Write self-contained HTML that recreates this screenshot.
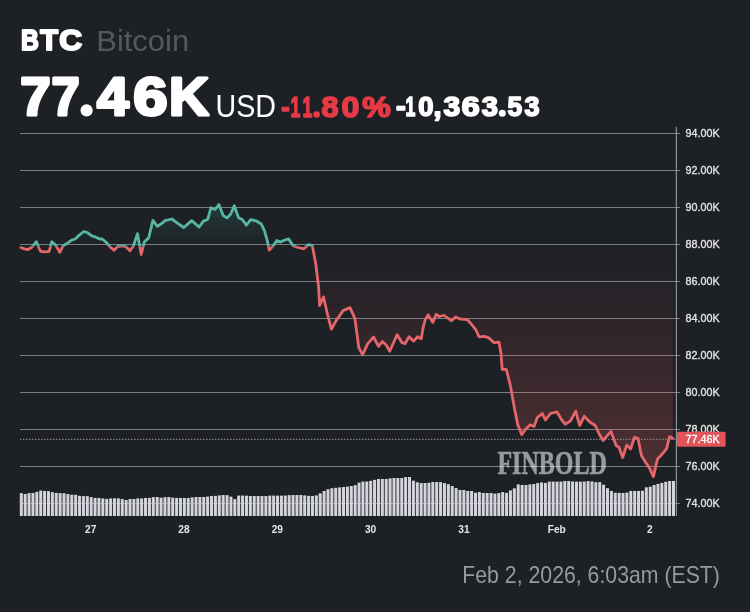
<!DOCTYPE html><html><head><meta charset="utf-8"><style>html,body{margin:0;padding:0;background:#1d2025;}svg{display:block;will-change:transform}</style></head><body>
<svg width="750" height="612" viewBox="0 0 750 612" font-family="Liberation Sans, sans-serif">
<rect width="750" height="612" fill="#1d2025"/>
<defs>
<clipPath id="above"><rect x="0" y="0" width="750" height="246.50"/></clipPath>
<clipPath id="below"><rect x="0" y="246.50" width="750" height="365.50"/></clipPath>
<linearGradient id="gr" x1="0" y1="246.5" x2="0" y2="480" gradientUnits="userSpaceOnUse"><stop offset="0" stop-color="#e55a5a" stop-opacity="0"/><stop offset="1" stop-color="#e55a5a" stop-opacity="0.26"/></linearGradient>
<linearGradient id="gg" x1="0" y1="246.5" x2="0" y2="200" gradientUnits="userSpaceOnUse"><stop offset="0" stop-color="#43b5a0" stop-opacity="0"/><stop offset="1" stop-color="#43b5a0" stop-opacity="0.2"/></linearGradient>
</defs>
<text x="497.41" y="474.20" font-family="Liberation Serif, serif" font-weight="bold" font-size="34.19" fill="#989a9e" stroke="#989a9e" stroke-width="0.6" textLength="109.55" lengthAdjust="spacingAndGlyphs">FINBOLD</text>
<rect x="20" y="133" width="660" height="1" fill="#ffffff" fill-opacity="0.42"/>
<rect x="20" y="170" width="660" height="1" fill="#ffffff" fill-opacity="0.42"/>
<rect x="20" y="207" width="660" height="1" fill="#ffffff" fill-opacity="0.42"/>
<rect x="20" y="244" width="660" height="1" fill="#ffffff" fill-opacity="0.42"/>
<rect x="20" y="281" width="660" height="1" fill="#ffffff" fill-opacity="0.42"/>
<rect x="20" y="318" width="660" height="1" fill="#ffffff" fill-opacity="0.42"/>
<rect x="20" y="355" width="660" height="1" fill="#ffffff" fill-opacity="0.42"/>
<rect x="20" y="392" width="660" height="1" fill="#ffffff" fill-opacity="0.42"/>
<rect x="20" y="429" width="660" height="1" fill="#ffffff" fill-opacity="0.42"/>
<rect x="20" y="466" width="660" height="1" fill="#ffffff" fill-opacity="0.42"/>
<rect x="20" y="503" width="660" height="1" fill="#ffffff" fill-opacity="0.42"/>
<path d="M20.90,247.50 L23.50,248.60 L27.80,249.70 L32.10,247.00 L36.30,241.70 L39.00,248.00 L40.60,251.30 L44.90,251.80 L49.10,251.30 L51.80,241.70 L55.50,244.90 L59.80,252.30 L63.00,245.90 L67.30,243.30 L71.50,240.10 L75.30,239.00 L79.00,235.30 L83.80,231.50 L87.50,232.60 L91.80,235.80 L95.30,236.90 L99.60,239.00 L102.30,239.00 L106.00,242.20 L109.70,246.50 L114.00,250.20 L117.70,246.50 L122.00,245.90 L125.70,246.50 L130.00,250.70 L133.20,246.50 L137.50,233.70 L141.20,254.50 L144.40,241.70 L148.70,237.90 L152.90,220.30 L157.20,226.20 L162.50,223.00 L165.00,220.60 L171.90,219.00 L177.80,223.30 L183.70,227.50 L191.70,220.60 L199.10,227.00 L203.40,221.10 L207.70,219.50 L210.90,207.80 L215.10,209.40 L218.90,204.60 L223.10,215.30 L226.90,217.90 L230.60,214.20 L234.30,205.70 L238.60,217.90 L242.10,219.20 L246.40,225.10 L250.70,219.70 L256.00,220.80 L261.30,224.00 L264.50,230.90 L267.20,240.50 L269.30,250.10 L273.10,245.90 L276.80,240.50 L280.50,242.10 L284.80,240.00 L288.50,238.90 L293.30,245.90 L298.10,247.50 L303.90,248.80 L308.50,244.60 L312.30,245.60 L315.70,263.50 L318.60,287.00 L319.60,305.70 L323.50,296.90 L327.50,314.50 L331.40,329.20 L336.30,320.40 L343.10,310.60 L350.00,307.60 L354.90,318.40 L358.80,347.80 L362.70,354.70 L367.60,343.90 L373.60,337.00 L378.50,346.40 L382.30,341.60 L386.00,344.80 L389.70,351.20 L393.50,342.70 L397.20,334.70 L402.00,342.70 L405.20,343.70 L408.90,336.80 L413.70,341.10 L417.50,336.80 L421.20,338.90 L423.30,326.70 L425.50,319.20 L428.10,314.90 L432.90,322.40 L436.10,314.40 L439.30,316.50 L443.60,315.50 L445.00,316.00 L451.40,320.80 L455.70,317.10 L461.00,319.20 L467.40,319.70 L471.70,324.50 L475.90,329.90 L479.10,336.80 L484.50,336.30 L488.70,337.90 L494.10,342.70 L498.90,342.10 L501.00,353.30 L502.20,369.40 L506.30,369.40 L510.40,385.70 L514.50,408.60 L517.80,424.90 L521.80,434.70 L525.10,429.80 L530.00,424.90 L534.10,426.50 L537.30,417.60 L542.20,413.50 L545.50,420.00 L550.40,413.50 L556.90,411.80 L561.80,420.00 L565.20,424.20 L570.50,420.90 L575.70,411.10 L579.60,425.50 L584.20,416.30 L590.10,422.20 L595.30,425.50 L599.20,434.00 L603.10,440.50 L611.00,431.40 L616.20,445.80 L618.80,447.10 L622.70,457.50 L626.70,445.10 L630.60,449.00 L634.50,437.30 L638.00,438.30 L641.40,455.50 L644.90,461.20 L649.40,468.00 L653.40,476.60 L657.50,458.90 L662.00,454.30 L666.60,448.60 L669.50,436.60 L672.90,438.30 L672.90,246.50 L20.90,246.50 Z" fill="url(#gr)" clip-path="url(#below)"/>
<path d="M20.90,247.50 L23.50,248.60 L27.80,249.70 L32.10,247.00 L36.30,241.70 L39.00,248.00 L40.60,251.30 L44.90,251.80 L49.10,251.30 L51.80,241.70 L55.50,244.90 L59.80,252.30 L63.00,245.90 L67.30,243.30 L71.50,240.10 L75.30,239.00 L79.00,235.30 L83.80,231.50 L87.50,232.60 L91.80,235.80 L95.30,236.90 L99.60,239.00 L102.30,239.00 L106.00,242.20 L109.70,246.50 L114.00,250.20 L117.70,246.50 L122.00,245.90 L125.70,246.50 L130.00,250.70 L133.20,246.50 L137.50,233.70 L141.20,254.50 L144.40,241.70 L148.70,237.90 L152.90,220.30 L157.20,226.20 L162.50,223.00 L165.00,220.60 L171.90,219.00 L177.80,223.30 L183.70,227.50 L191.70,220.60 L199.10,227.00 L203.40,221.10 L207.70,219.50 L210.90,207.80 L215.10,209.40 L218.90,204.60 L223.10,215.30 L226.90,217.90 L230.60,214.20 L234.30,205.70 L238.60,217.90 L242.10,219.20 L246.40,225.10 L250.70,219.70 L256.00,220.80 L261.30,224.00 L264.50,230.90 L267.20,240.50 L269.30,250.10 L273.10,245.90 L276.80,240.50 L280.50,242.10 L284.80,240.00 L288.50,238.90 L293.30,245.90 L298.10,247.50 L303.90,248.80 L308.50,244.60 L312.30,245.60 L315.70,263.50 L318.60,287.00 L319.60,305.70 L323.50,296.90 L327.50,314.50 L331.40,329.20 L336.30,320.40 L343.10,310.60 L350.00,307.60 L354.90,318.40 L358.80,347.80 L362.70,354.70 L367.60,343.90 L373.60,337.00 L378.50,346.40 L382.30,341.60 L386.00,344.80 L389.70,351.20 L393.50,342.70 L397.20,334.70 L402.00,342.70 L405.20,343.70 L408.90,336.80 L413.70,341.10 L417.50,336.80 L421.20,338.90 L423.30,326.70 L425.50,319.20 L428.10,314.90 L432.90,322.40 L436.10,314.40 L439.30,316.50 L443.60,315.50 L445.00,316.00 L451.40,320.80 L455.70,317.10 L461.00,319.20 L467.40,319.70 L471.70,324.50 L475.90,329.90 L479.10,336.80 L484.50,336.30 L488.70,337.90 L494.10,342.70 L498.90,342.10 L501.00,353.30 L502.20,369.40 L506.30,369.40 L510.40,385.70 L514.50,408.60 L517.80,424.90 L521.80,434.70 L525.10,429.80 L530.00,424.90 L534.10,426.50 L537.30,417.60 L542.20,413.50 L545.50,420.00 L550.40,413.50 L556.90,411.80 L561.80,420.00 L565.20,424.20 L570.50,420.90 L575.70,411.10 L579.60,425.50 L584.20,416.30 L590.10,422.20 L595.30,425.50 L599.20,434.00 L603.10,440.50 L611.00,431.40 L616.20,445.80 L618.80,447.10 L622.70,457.50 L626.70,445.10 L630.60,449.00 L634.50,437.30 L638.00,438.30 L641.40,455.50 L644.90,461.20 L649.40,468.00 L653.40,476.60 L657.50,458.90 L662.00,454.30 L666.60,448.60 L669.50,436.60 L672.90,438.30 L672.90,246.50 L20.90,246.50 Z" fill="url(#gg)" clip-path="url(#above)"/>
<line x1="20" y1="439.29" x2="676" y2="439.29" stroke="#a89494" stroke-width="1" stroke-dasharray="1.5 1.5"/>
<path d="M20.90,247.50 L23.50,248.60 L27.80,249.70 L32.10,247.00 L36.30,241.70 L39.00,248.00 L40.60,251.30 L44.90,251.80 L49.10,251.30 L51.80,241.70 L55.50,244.90 L59.80,252.30 L63.00,245.90 L67.30,243.30 L71.50,240.10 L75.30,239.00 L79.00,235.30 L83.80,231.50 L87.50,232.60 L91.80,235.80 L95.30,236.90 L99.60,239.00 L102.30,239.00 L106.00,242.20 L109.70,246.50 L114.00,250.20 L117.70,246.50 L122.00,245.90 L125.70,246.50 L130.00,250.70 L133.20,246.50 L137.50,233.70 L141.20,254.50 L144.40,241.70 L148.70,237.90 L152.90,220.30 L157.20,226.20 L162.50,223.00 L165.00,220.60 L171.90,219.00 L177.80,223.30 L183.70,227.50 L191.70,220.60 L199.10,227.00 L203.40,221.10 L207.70,219.50 L210.90,207.80 L215.10,209.40 L218.90,204.60 L223.10,215.30 L226.90,217.90 L230.60,214.20 L234.30,205.70 L238.60,217.90 L242.10,219.20 L246.40,225.10 L250.70,219.70 L256.00,220.80 L261.30,224.00 L264.50,230.90 L267.20,240.50 L269.30,250.10 L273.10,245.90 L276.80,240.50 L280.50,242.10 L284.80,240.00 L288.50,238.90 L293.30,245.90 L298.10,247.50 L303.90,248.80 L308.50,244.60 L312.30,245.60 L315.70,263.50 L318.60,287.00 L319.60,305.70 L323.50,296.90 L327.50,314.50 L331.40,329.20 L336.30,320.40 L343.10,310.60 L350.00,307.60 L354.90,318.40 L358.80,347.80 L362.70,354.70 L367.60,343.90 L373.60,337.00 L378.50,346.40 L382.30,341.60 L386.00,344.80 L389.70,351.20 L393.50,342.70 L397.20,334.70 L402.00,342.70 L405.20,343.70 L408.90,336.80 L413.70,341.10 L417.50,336.80 L421.20,338.90 L423.30,326.70 L425.50,319.20 L428.10,314.90 L432.90,322.40 L436.10,314.40 L439.30,316.50 L443.60,315.50 L445.00,316.00 L451.40,320.80 L455.70,317.10 L461.00,319.20 L467.40,319.70 L471.70,324.50 L475.90,329.90 L479.10,336.80 L484.50,336.30 L488.70,337.90 L494.10,342.70 L498.90,342.10 L501.00,353.30 L502.20,369.40 L506.30,369.40 L510.40,385.70 L514.50,408.60 L517.80,424.90 L521.80,434.70 L525.10,429.80 L530.00,424.90 L534.10,426.50 L537.30,417.60 L542.20,413.50 L545.50,420.00 L550.40,413.50 L556.90,411.80 L561.80,420.00 L565.20,424.20 L570.50,420.90 L575.70,411.10 L579.60,425.50 L584.20,416.30 L590.10,422.20 L595.30,425.50 L599.20,434.00 L603.10,440.50 L611.00,431.40 L616.20,445.80 L618.80,447.10 L622.70,457.50 L626.70,445.10 L630.60,449.00 L634.50,437.30 L638.00,438.30 L641.40,455.50 L644.90,461.20 L649.40,468.00 L653.40,476.60 L657.50,458.90 L662.00,454.30 L666.60,448.60 L669.50,436.60 L672.90,438.30" fill="none" stroke="#58b7a2" stroke-width="2.8" stroke-linejoin="round" stroke-linecap="round" clip-path="url(#above)"/>
<path d="M20.90,247.50 L23.50,248.60 L27.80,249.70 L32.10,247.00 L36.30,241.70 L39.00,248.00 L40.60,251.30 L44.90,251.80 L49.10,251.30 L51.80,241.70 L55.50,244.90 L59.80,252.30 L63.00,245.90 L67.30,243.30 L71.50,240.10 L75.30,239.00 L79.00,235.30 L83.80,231.50 L87.50,232.60 L91.80,235.80 L95.30,236.90 L99.60,239.00 L102.30,239.00 L106.00,242.20 L109.70,246.50 L114.00,250.20 L117.70,246.50 L122.00,245.90 L125.70,246.50 L130.00,250.70 L133.20,246.50 L137.50,233.70 L141.20,254.50 L144.40,241.70 L148.70,237.90 L152.90,220.30 L157.20,226.20 L162.50,223.00 L165.00,220.60 L171.90,219.00 L177.80,223.30 L183.70,227.50 L191.70,220.60 L199.10,227.00 L203.40,221.10 L207.70,219.50 L210.90,207.80 L215.10,209.40 L218.90,204.60 L223.10,215.30 L226.90,217.90 L230.60,214.20 L234.30,205.70 L238.60,217.90 L242.10,219.20 L246.40,225.10 L250.70,219.70 L256.00,220.80 L261.30,224.00 L264.50,230.90 L267.20,240.50 L269.30,250.10 L273.10,245.90 L276.80,240.50 L280.50,242.10 L284.80,240.00 L288.50,238.90 L293.30,245.90 L298.10,247.50 L303.90,248.80 L308.50,244.60 L312.30,245.60 L315.70,263.50 L318.60,287.00 L319.60,305.70 L323.50,296.90 L327.50,314.50 L331.40,329.20 L336.30,320.40 L343.10,310.60 L350.00,307.60 L354.90,318.40 L358.80,347.80 L362.70,354.70 L367.60,343.90 L373.60,337.00 L378.50,346.40 L382.30,341.60 L386.00,344.80 L389.70,351.20 L393.50,342.70 L397.20,334.70 L402.00,342.70 L405.20,343.70 L408.90,336.80 L413.70,341.10 L417.50,336.80 L421.20,338.90 L423.30,326.70 L425.50,319.20 L428.10,314.90 L432.90,322.40 L436.10,314.40 L439.30,316.50 L443.60,315.50 L445.00,316.00 L451.40,320.80 L455.70,317.10 L461.00,319.20 L467.40,319.70 L471.70,324.50 L475.90,329.90 L479.10,336.80 L484.50,336.30 L488.70,337.90 L494.10,342.70 L498.90,342.10 L501.00,353.30 L502.20,369.40 L506.30,369.40 L510.40,385.70 L514.50,408.60 L517.80,424.90 L521.80,434.70 L525.10,429.80 L530.00,424.90 L534.10,426.50 L537.30,417.60 L542.20,413.50 L545.50,420.00 L550.40,413.50 L556.90,411.80 L561.80,420.00 L565.20,424.20 L570.50,420.90 L575.70,411.10 L579.60,425.50 L584.20,416.30 L590.10,422.20 L595.30,425.50 L599.20,434.00 L603.10,440.50 L611.00,431.40 L616.20,445.80 L618.80,447.10 L622.70,457.50 L626.70,445.10 L630.60,449.00 L634.50,437.30 L638.00,438.30 L641.40,455.50 L644.90,461.20 L649.40,468.00 L653.40,476.60 L657.50,458.90 L662.00,454.30 L666.60,448.60 L669.50,436.60 L672.90,438.30" fill="none" stroke="#e4666a" stroke-width="2.8" stroke-linejoin="round" stroke-linecap="round" clip-path="url(#below)"/>
<rect x="19.80" y="493.17" width="3.0" height="22.83" fill="#d4d4dc"/>
<rect x="23.68" y="493.93" width="3.0" height="22.07" fill="#d4d4dc"/>
<rect x="27.56" y="493.10" width="3.0" height="22.90" fill="#d4d4dc"/>
<rect x="31.45" y="492.90" width="3.0" height="23.10" fill="#d4d4dc"/>
<rect x="35.33" y="491.88" width="3.0" height="24.12" fill="#d4d4dc"/>
<rect x="39.21" y="490.56" width="3.0" height="25.44" fill="#d4d4dc"/>
<rect x="43.09" y="491.00" width="3.0" height="25.00" fill="#d4d4dc"/>
<rect x="46.98" y="491.08" width="3.0" height="24.92" fill="#d4d4dc"/>
<rect x="50.86" y="492.17" width="3.0" height="23.83" fill="#d4d4dc"/>
<rect x="54.74" y="492.89" width="3.0" height="23.11" fill="#d4d4dc"/>
<rect x="58.62" y="493.10" width="3.0" height="22.90" fill="#d4d4dc"/>
<rect x="62.50" y="493.21" width="3.0" height="22.79" fill="#d4d4dc"/>
<rect x="66.39" y="494.05" width="3.0" height="21.95" fill="#d4d4dc"/>
<rect x="70.27" y="494.70" width="3.0" height="21.30" fill="#d4d4dc"/>
<rect x="74.15" y="494.75" width="3.0" height="21.25" fill="#d4d4dc"/>
<rect x="78.03" y="495.84" width="3.0" height="20.16" fill="#d4d4dc"/>
<rect x="81.91" y="496.10" width="3.0" height="19.90" fill="#d4d4dc"/>
<rect x="85.80" y="496.10" width="3.0" height="19.90" fill="#d4d4dc"/>
<rect x="89.68" y="497.11" width="3.0" height="18.89" fill="#d4d4dc"/>
<rect x="93.56" y="497.97" width="3.0" height="18.03" fill="#d4d4dc"/>
<rect x="97.44" y="497.99" width="3.0" height="18.01" fill="#d4d4dc"/>
<rect x="101.33" y="498.44" width="3.0" height="17.56" fill="#d4d4dc"/>
<rect x="105.21" y="498.91" width="3.0" height="17.09" fill="#d4d4dc"/>
<rect x="109.09" y="498.47" width="3.0" height="17.53" fill="#d4d4dc"/>
<rect x="112.97" y="498.30" width="3.0" height="17.70" fill="#d4d4dc"/>
<rect x="116.85" y="498.36" width="3.0" height="17.64" fill="#d4d4dc"/>
<rect x="120.74" y="499.06" width="3.0" height="16.94" fill="#d4d4dc"/>
<rect x="124.62" y="499.97" width="3.0" height="16.03" fill="#d4d4dc"/>
<rect x="128.50" y="499.00" width="3.0" height="17.00" fill="#d4d4dc"/>
<rect x="132.38" y="499.00" width="3.0" height="17.00" fill="#d4d4dc"/>
<rect x="136.26" y="498.34" width="3.0" height="17.66" fill="#d4d4dc"/>
<rect x="140.15" y="498.48" width="3.0" height="17.52" fill="#d4d4dc"/>
<rect x="144.03" y="497.97" width="3.0" height="18.03" fill="#d4d4dc"/>
<rect x="147.91" y="497.90" width="3.0" height="18.10" fill="#d4d4dc"/>
<rect x="151.79" y="497.16" width="3.0" height="18.84" fill="#d4d4dc"/>
<rect x="155.68" y="497.00" width="3.0" height="19.00" fill="#d4d4dc"/>
<rect x="159.56" y="497.69" width="3.0" height="18.31" fill="#d4d4dc"/>
<rect x="163.44" y="497.24" width="3.0" height="18.76" fill="#d4d4dc"/>
<rect x="167.32" y="497.00" width="3.0" height="19.00" fill="#d4d4dc"/>
<rect x="171.20" y="497.61" width="3.0" height="18.39" fill="#d4d4dc"/>
<rect x="175.09" y="497.90" width="3.0" height="18.10" fill="#d4d4dc"/>
<rect x="178.97" y="497.96" width="3.0" height="18.04" fill="#d4d4dc"/>
<rect x="182.85" y="498.00" width="3.0" height="18.00" fill="#d4d4dc"/>
<rect x="186.73" y="498.00" width="3.0" height="18.00" fill="#d4d4dc"/>
<rect x="190.61" y="497.38" width="3.0" height="18.62" fill="#d4d4dc"/>
<rect x="194.50" y="497.00" width="3.0" height="19.00" fill="#d4d4dc"/>
<rect x="198.38" y="497.00" width="3.0" height="19.00" fill="#d4d4dc"/>
<rect x="202.26" y="497.00" width="3.0" height="19.00" fill="#d4d4dc"/>
<rect x="206.14" y="496.59" width="3.0" height="19.41" fill="#d4d4dc"/>
<rect x="210.03" y="496.00" width="3.0" height="20.00" fill="#d4d4dc"/>
<rect x="213.91" y="495.86" width="3.0" height="20.14" fill="#d4d4dc"/>
<rect x="217.79" y="495.41" width="3.0" height="20.59" fill="#d4d4dc"/>
<rect x="221.67" y="495.00" width="3.0" height="21.00" fill="#d4d4dc"/>
<rect x="225.55" y="495.16" width="3.0" height="20.84" fill="#d4d4dc"/>
<rect x="229.44" y="496.63" width="3.0" height="19.37" fill="#d4d4dc"/>
<rect x="233.32" y="499.10" width="3.0" height="16.90" fill="#d4d4dc"/>
<rect x="237.20" y="495.60" width="3.0" height="20.40" fill="#d4d4dc"/>
<rect x="241.08" y="495.60" width="3.0" height="20.40" fill="#d4d4dc"/>
<rect x="244.96" y="495.65" width="3.0" height="20.35" fill="#d4d4dc"/>
<rect x="248.85" y="496.00" width="3.0" height="20.00" fill="#d4d4dc"/>
<rect x="252.73" y="496.00" width="3.0" height="20.00" fill="#d4d4dc"/>
<rect x="256.61" y="496.00" width="3.0" height="20.00" fill="#d4d4dc"/>
<rect x="260.49" y="496.00" width="3.0" height="20.00" fill="#d4d4dc"/>
<rect x="264.38" y="496.00" width="3.0" height="20.00" fill="#d4d4dc"/>
<rect x="268.26" y="495.62" width="3.0" height="20.38" fill="#d4d4dc"/>
<rect x="272.14" y="495.60" width="3.0" height="20.40" fill="#d4d4dc"/>
<rect x="276.02" y="495.60" width="3.0" height="20.40" fill="#d4d4dc"/>
<rect x="279.90" y="495.60" width="3.0" height="20.40" fill="#d4d4dc"/>
<rect x="283.79" y="495.60" width="3.0" height="20.40" fill="#d4d4dc"/>
<rect x="287.67" y="495.12" width="3.0" height="20.88" fill="#d4d4dc"/>
<rect x="291.55" y="495.00" width="3.0" height="21.00" fill="#d4d4dc"/>
<rect x="295.43" y="495.00" width="3.0" height="21.00" fill="#d4d4dc"/>
<rect x="299.31" y="495.00" width="3.0" height="21.00" fill="#d4d4dc"/>
<rect x="303.20" y="495.40" width="3.0" height="20.60" fill="#d4d4dc"/>
<rect x="307.08" y="495.86" width="3.0" height="20.14" fill="#d4d4dc"/>
<rect x="310.96" y="496.00" width="3.0" height="20.00" fill="#d4d4dc"/>
<rect x="314.84" y="495.41" width="3.0" height="20.59" fill="#d4d4dc"/>
<rect x="318.73" y="493.33" width="3.0" height="22.67" fill="#d4d4dc"/>
<rect x="322.61" y="490.95" width="3.0" height="25.05" fill="#d4d4dc"/>
<rect x="326.49" y="489.20" width="3.0" height="26.80" fill="#d4d4dc"/>
<rect x="330.37" y="488.21" width="3.0" height="27.79" fill="#d4d4dc"/>
<rect x="334.25" y="487.82" width="3.0" height="28.18" fill="#d4d4dc"/>
<rect x="338.14" y="487.35" width="3.0" height="28.65" fill="#d4d4dc"/>
<rect x="342.02" y="487.00" width="3.0" height="29.00" fill="#d4d4dc"/>
<rect x="345.90" y="486.65" width="3.0" height="29.35" fill="#d4d4dc"/>
<rect x="349.78" y="486.00" width="3.0" height="30.00" fill="#d4d4dc"/>
<rect x="353.66" y="485.13" width="3.0" height="30.87" fill="#d4d4dc"/>
<rect x="357.55" y="482.63" width="3.0" height="33.37" fill="#d4d4dc"/>
<rect x="361.43" y="481.60" width="3.0" height="34.40" fill="#d4d4dc"/>
<rect x="365.31" y="481.48" width="3.0" height="34.52" fill="#d4d4dc"/>
<rect x="369.19" y="480.83" width="3.0" height="35.17" fill="#d4d4dc"/>
<rect x="373.08" y="479.86" width="3.0" height="36.14" fill="#d4d4dc"/>
<rect x="376.96" y="479.00" width="3.0" height="37.00" fill="#d4d4dc"/>
<rect x="380.84" y="479.00" width="3.0" height="37.00" fill="#d4d4dc"/>
<rect x="384.72" y="478.97" width="3.0" height="37.03" fill="#d4d4dc"/>
<rect x="388.60" y="478.39" width="3.0" height="37.61" fill="#d4d4dc"/>
<rect x="392.49" y="478.00" width="3.0" height="38.00" fill="#d4d4dc"/>
<rect x="396.37" y="478.00" width="3.0" height="38.00" fill="#d4d4dc"/>
<rect x="400.25" y="478.00" width="3.0" height="38.00" fill="#d4d4dc"/>
<rect x="404.13" y="477.09" width="3.0" height="38.91" fill="#d4d4dc"/>
<rect x="408.01" y="477.00" width="3.0" height="39.00" fill="#d4d4dc"/>
<rect x="411.90" y="480.70" width="3.0" height="35.30" fill="#d4d4dc"/>
<rect x="415.78" y="482.32" width="3.0" height="33.68" fill="#d4d4dc"/>
<rect x="419.66" y="483.00" width="3.0" height="33.00" fill="#d4d4dc"/>
<rect x="423.54" y="483.00" width="3.0" height="33.00" fill="#d4d4dc"/>
<rect x="427.43" y="482.77" width="3.0" height="33.23" fill="#d4d4dc"/>
<rect x="431.31" y="482.00" width="3.0" height="34.00" fill="#d4d4dc"/>
<rect x="435.19" y="482.00" width="3.0" height="34.00" fill="#d4d4dc"/>
<rect x="439.07" y="482.14" width="3.0" height="33.86" fill="#d4d4dc"/>
<rect x="442.95" y="483.11" width="3.0" height="32.89" fill="#d4d4dc"/>
<rect x="446.84" y="484.17" width="3.0" height="31.83" fill="#d4d4dc"/>
<rect x="450.72" y="486.11" width="3.0" height="29.89" fill="#d4d4dc"/>
<rect x="454.60" y="488.05" width="3.0" height="27.95" fill="#d4d4dc"/>
<rect x="458.48" y="489.99" width="3.0" height="26.01" fill="#d4d4dc"/>
<rect x="462.36" y="490.00" width="3.0" height="26.00" fill="#d4d4dc"/>
<rect x="466.25" y="490.94" width="3.0" height="25.06" fill="#d4d4dc"/>
<rect x="470.13" y="491.00" width="3.0" height="25.00" fill="#d4d4dc"/>
<rect x="474.01" y="492.76" width="3.0" height="23.24" fill="#d4d4dc"/>
<rect x="477.89" y="492.10" width="3.0" height="23.90" fill="#d4d4dc"/>
<rect x="481.78" y="493.00" width="3.0" height="23.00" fill="#d4d4dc"/>
<rect x="485.66" y="493.00" width="3.0" height="23.00" fill="#d4d4dc"/>
<rect x="489.54" y="493.01" width="3.0" height="22.99" fill="#d4d4dc"/>
<rect x="493.42" y="493.59" width="3.0" height="22.41" fill="#d4d4dc"/>
<rect x="497.30" y="493.03" width="3.0" height="22.97" fill="#d4d4dc"/>
<rect x="501.19" y="492.08" width="3.0" height="23.92" fill="#d4d4dc"/>
<rect x="505.07" y="492.89" width="3.0" height="23.11" fill="#d4d4dc"/>
<rect x="508.95" y="490.41" width="3.0" height="25.59" fill="#d4d4dc"/>
<rect x="512.83" y="488.33" width="3.0" height="27.67" fill="#d4d4dc"/>
<rect x="516.71" y="484.43" width="3.0" height="31.57" fill="#d4d4dc"/>
<rect x="520.60" y="485.00" width="3.0" height="31.00" fill="#d4d4dc"/>
<rect x="524.48" y="485.00" width="3.0" height="31.00" fill="#d4d4dc"/>
<rect x="528.36" y="484.42" width="3.0" height="31.58" fill="#d4d4dc"/>
<rect x="532.24" y="484.03" width="3.0" height="31.97" fill="#d4d4dc"/>
<rect x="536.12" y="483.09" width="3.0" height="32.91" fill="#d4d4dc"/>
<rect x="540.01" y="482.47" width="3.0" height="33.53" fill="#d4d4dc"/>
<rect x="543.89" y="482.91" width="3.0" height="33.09" fill="#d4d4dc"/>
<rect x="547.77" y="481.60" width="3.0" height="34.40" fill="#d4d4dc"/>
<rect x="551.65" y="481.60" width="3.0" height="34.40" fill="#d4d4dc"/>
<rect x="555.54" y="481.60" width="3.0" height="34.40" fill="#d4d4dc"/>
<rect x="559.42" y="481.60" width="3.0" height="34.40" fill="#d4d4dc"/>
<rect x="563.30" y="481.03" width="3.0" height="34.97" fill="#d4d4dc"/>
<rect x="567.18" y="481.00" width="3.0" height="35.00" fill="#d4d4dc"/>
<rect x="571.06" y="481.53" width="3.0" height="34.47" fill="#d4d4dc"/>
<rect x="574.95" y="481.60" width="3.0" height="34.40" fill="#d4d4dc"/>
<rect x="578.83" y="481.60" width="3.0" height="34.40" fill="#d4d4dc"/>
<rect x="582.71" y="481.60" width="3.0" height="34.40" fill="#d4d4dc"/>
<rect x="586.59" y="481.14" width="3.0" height="34.86" fill="#d4d4dc"/>
<rect x="590.48" y="481.45" width="3.0" height="34.55" fill="#d4d4dc"/>
<rect x="594.36" y="482.17" width="3.0" height="33.83" fill="#d4d4dc"/>
<rect x="598.24" y="482.10" width="3.0" height="33.90" fill="#d4d4dc"/>
<rect x="602.12" y="484.70" width="3.0" height="31.30" fill="#d4d4dc"/>
<rect x="606.00" y="488.21" width="3.0" height="27.79" fill="#d4d4dc"/>
<rect x="609.89" y="490.92" width="3.0" height="25.08" fill="#d4d4dc"/>
<rect x="613.77" y="492.80" width="3.0" height="23.20" fill="#d4d4dc"/>
<rect x="617.65" y="492.84" width="3.0" height="23.16" fill="#d4d4dc"/>
<rect x="621.53" y="492.98" width="3.0" height="23.02" fill="#d4d4dc"/>
<rect x="625.41" y="492.59" width="3.0" height="23.41" fill="#d4d4dc"/>
<rect x="629.30" y="491.00" width="3.0" height="25.00" fill="#d4d4dc"/>
<rect x="633.18" y="491.00" width="3.0" height="25.00" fill="#d4d4dc"/>
<rect x="637.06" y="491.00" width="3.0" height="25.00" fill="#d4d4dc"/>
<rect x="640.94" y="490.76" width="3.0" height="25.24" fill="#d4d4dc"/>
<rect x="644.83" y="487.32" width="3.0" height="28.68" fill="#d4d4dc"/>
<rect x="648.71" y="486.71" width="3.0" height="29.29" fill="#d4d4dc"/>
<rect x="652.59" y="485.05" width="3.0" height="30.95" fill="#d4d4dc"/>
<rect x="656.47" y="483.87" width="3.0" height="32.13" fill="#d4d4dc"/>
<rect x="660.35" y="482.90" width="3.0" height="33.10" fill="#d4d4dc"/>
<rect x="664.24" y="481.80" width="3.0" height="34.20" fill="#d4d4dc"/>
<rect x="668.12" y="481.00" width="3.0" height="35.00" fill="#d4d4dc"/>
<rect x="672.00" y="481.00" width="3.0" height="35.00" fill="#d4d4dc"/>
<rect x="675.8" y="127" width="1.1" height="389" fill="#9a9ca0"/>
<text x="685.6" y="137.20" font-size="11.3" fill="#e2e2e2" stroke="#e2e2e2" stroke-width="0.35" textLength="34" lengthAdjust="spacingAndGlyphs">94.00K</text>
<text x="685.6" y="174.20" font-size="11.3" fill="#e2e2e2" stroke="#e2e2e2" stroke-width="0.35" textLength="34" lengthAdjust="spacingAndGlyphs">92.00K</text>
<text x="685.6" y="211.20" font-size="11.3" fill="#e2e2e2" stroke="#e2e2e2" stroke-width="0.35" textLength="34" lengthAdjust="spacingAndGlyphs">90.00K</text>
<text x="685.6" y="248.20" font-size="11.3" fill="#e2e2e2" stroke="#e2e2e2" stroke-width="0.35" textLength="34" lengthAdjust="spacingAndGlyphs">88.00K</text>
<text x="685.6" y="285.20" font-size="11.3" fill="#e2e2e2" stroke="#e2e2e2" stroke-width="0.35" textLength="34" lengthAdjust="spacingAndGlyphs">86.00K</text>
<text x="685.6" y="322.20" font-size="11.3" fill="#e2e2e2" stroke="#e2e2e2" stroke-width="0.35" textLength="34" lengthAdjust="spacingAndGlyphs">84.00K</text>
<text x="685.6" y="359.20" font-size="11.3" fill="#e2e2e2" stroke="#e2e2e2" stroke-width="0.35" textLength="34" lengthAdjust="spacingAndGlyphs">82.00K</text>
<text x="685.6" y="396.20" font-size="11.3" fill="#e2e2e2" stroke="#e2e2e2" stroke-width="0.35" textLength="34" lengthAdjust="spacingAndGlyphs">80.00K</text>
<text x="685.6" y="433.20" font-size="11.3" fill="#e2e2e2" stroke="#e2e2e2" stroke-width="0.35" textLength="34" lengthAdjust="spacingAndGlyphs">78.00K</text>
<text x="685.6" y="470.20" font-size="11.3" fill="#e2e2e2" stroke="#e2e2e2" stroke-width="0.35" textLength="34" lengthAdjust="spacingAndGlyphs">76.00K</text>
<text x="685.6" y="507.20" font-size="11.3" fill="#e2e2e2" stroke="#e2e2e2" stroke-width="0.35" textLength="34" lengthAdjust="spacingAndGlyphs">74.00K</text>
<rect x="677" y="431.8" width="48.6" height="15" rx="1.5" fill="#e2535a"/>
<text x="685.6" y="443.19" font-size="11.3" fill="#ffffff" stroke="#ffffff" stroke-width="0.35" textLength="34" lengthAdjust="spacingAndGlyphs">77.46K</text>
<text x="90.7" y="533.2" font-size="11.3" font-weight="bold" fill="#e6e6e6" text-anchor="middle" textLength="11.31" lengthAdjust="spacingAndGlyphs">27</text>
<text x="184.0" y="533.2" font-size="11.3" font-weight="bold" fill="#e6e6e6" text-anchor="middle" textLength="11.31" lengthAdjust="spacingAndGlyphs">28</text>
<text x="277.3" y="533.2" font-size="11.3" font-weight="bold" fill="#e6e6e6" text-anchor="middle" textLength="11.31" lengthAdjust="spacingAndGlyphs">29</text>
<text x="370.6" y="533.2" font-size="11.3" font-weight="bold" fill="#e6e6e6" text-anchor="middle" textLength="11.31" lengthAdjust="spacingAndGlyphs">30</text>
<text x="463.9" y="533.2" font-size="11.3" font-weight="bold" fill="#e6e6e6" text-anchor="middle" textLength="11.31" lengthAdjust="spacingAndGlyphs">31</text>
<text x="556.8" y="533.2" font-size="11.3" font-weight="bold" fill="#e6e6e6" text-anchor="middle" textLength="18.08" lengthAdjust="spacingAndGlyphs">Feb</text>
<text x="649.8" y="533.2" font-size="11.3" font-weight="bold" fill="#e6e6e6" text-anchor="middle" textLength="5.65" lengthAdjust="spacingAndGlyphs">2</text>
<text x="96.25" y="50.80" font-family="Liberation Sans, sans-serif" font-size="29.18" font-weight="normal" fill="#55585e" textLength="92.87" lengthAdjust="spacingAndGlyphs">Bitcoin</text>
<text x="215.41" y="117.00" font-family="Liberation Sans, sans-serif" font-size="31.26" font-weight="normal" fill="#ffffff" textLength="60.59" lengthAdjust="spacingAndGlyphs">USD</text>
<g font-family="Liberation Sans, sans-serif" font-weight="bold" font-size="29.22" fill="#ffffff" stroke="#ffffff" stroke-width="2.00" stroke-linejoin="round">
<text x="20.93" y="49.50" textLength="17.88" lengthAdjust="spacingAndGlyphs">B</text>
<text x="40.30" y="49.50" textLength="17.79" lengthAdjust="spacingAndGlyphs">T</text>
<text x="59.22" y="49.50" textLength="22.89" lengthAdjust="spacingAndGlyphs">C</text>
</g>
<g font-family="Liberation Sans, sans-serif" font-weight="bold" font-size="53.32" fill="#ffffff" stroke="#ffffff" stroke-width="3.00" stroke-linejoin="round">
<text x="20.15" y="115.26" textLength="30.45" lengthAdjust="spacingAndGlyphs">7</text>
<text x="51.45" y="115.26" textLength="28.19" lengthAdjust="spacingAndGlyphs">7</text>
<text x="96.97" y="115.26" textLength="31.80" lengthAdjust="spacingAndGlyphs">4</text>
<text x="133.28" y="115.26" textLength="34.35" lengthAdjust="spacingAndGlyphs">6</text>
<text x="168.94" y="115.26" textLength="39.91" lengthAdjust="spacingAndGlyphs">K</text>
</g>
<g font-family="Liberation Sans, sans-serif" font-weight="bold" font-size="29.53" fill="#e63a46" stroke="#e63a46" stroke-width="1.60" stroke-linejoin="round">
<text x="281.23" y="116.83" textLength="8.39" lengthAdjust="spacingAndGlyphs">-</text>
<text x="290.60" y="116.83" textLength="9.86" lengthAdjust="spacingAndGlyphs">1</text>
<text x="302.60" y="116.83" textLength="9.86" lengthAdjust="spacingAndGlyphs">1</text>
<text x="321.60" y="116.83" textLength="17.07" lengthAdjust="spacingAndGlyphs">8</text>
<text x="341.50" y="116.83" textLength="17.89" lengthAdjust="spacingAndGlyphs">0</text>
<text x="362.16" y="116.83" textLength="28.42" lengthAdjust="spacingAndGlyphs">%</text>
</g>
<g font-family="Liberation Sans, sans-serif" font-weight="bold" font-size="26.71" fill="#ffffff" stroke="#ffffff" stroke-width="1.60" stroke-linejoin="round">
<text x="396.07" y="116.33" textLength="9.73" lengthAdjust="spacingAndGlyphs">-</text>
<text x="405.61" y="116.33" textLength="9.85" lengthAdjust="spacingAndGlyphs">1</text>
<text x="418.18" y="116.33" textLength="15.26" lengthAdjust="spacingAndGlyphs">0</text>
<text x="433.61" y="116.33" textLength="8.03" lengthAdjust="spacingAndGlyphs">,</text>
<text x="443.56" y="116.33" textLength="16.72" lengthAdjust="spacingAndGlyphs">3</text>
<text x="461.56" y="116.33" textLength="18.31" lengthAdjust="spacingAndGlyphs">6</text>
<text x="481.79" y="116.33" textLength="16.21" lengthAdjust="spacingAndGlyphs">3</text>
<text x="507.46" y="116.33" textLength="14.63" lengthAdjust="spacingAndGlyphs">5</text>
<text x="524.43" y="116.33" textLength="15.08" lengthAdjust="spacingAndGlyphs">3</text>
</g>
<circle cx="86.6" cy="110.4" r="6.1" fill="#ffffff"/>
<circle cx="316.6" cy="114.5" r="3.3" fill="#e63a46"/>
<circle cx="502.3" cy="113.3" r="3.5" fill="#ffffff"/>
<text x="462.32" y="583.03" font-family="Liberation Sans, sans-serif" font-size="23.80" font-weight="normal" fill="#96999e" textLength="257.60" lengthAdjust="spacingAndGlyphs">Feb 2, 2026, 6:03am (EST)</text>
</svg></body></html>
